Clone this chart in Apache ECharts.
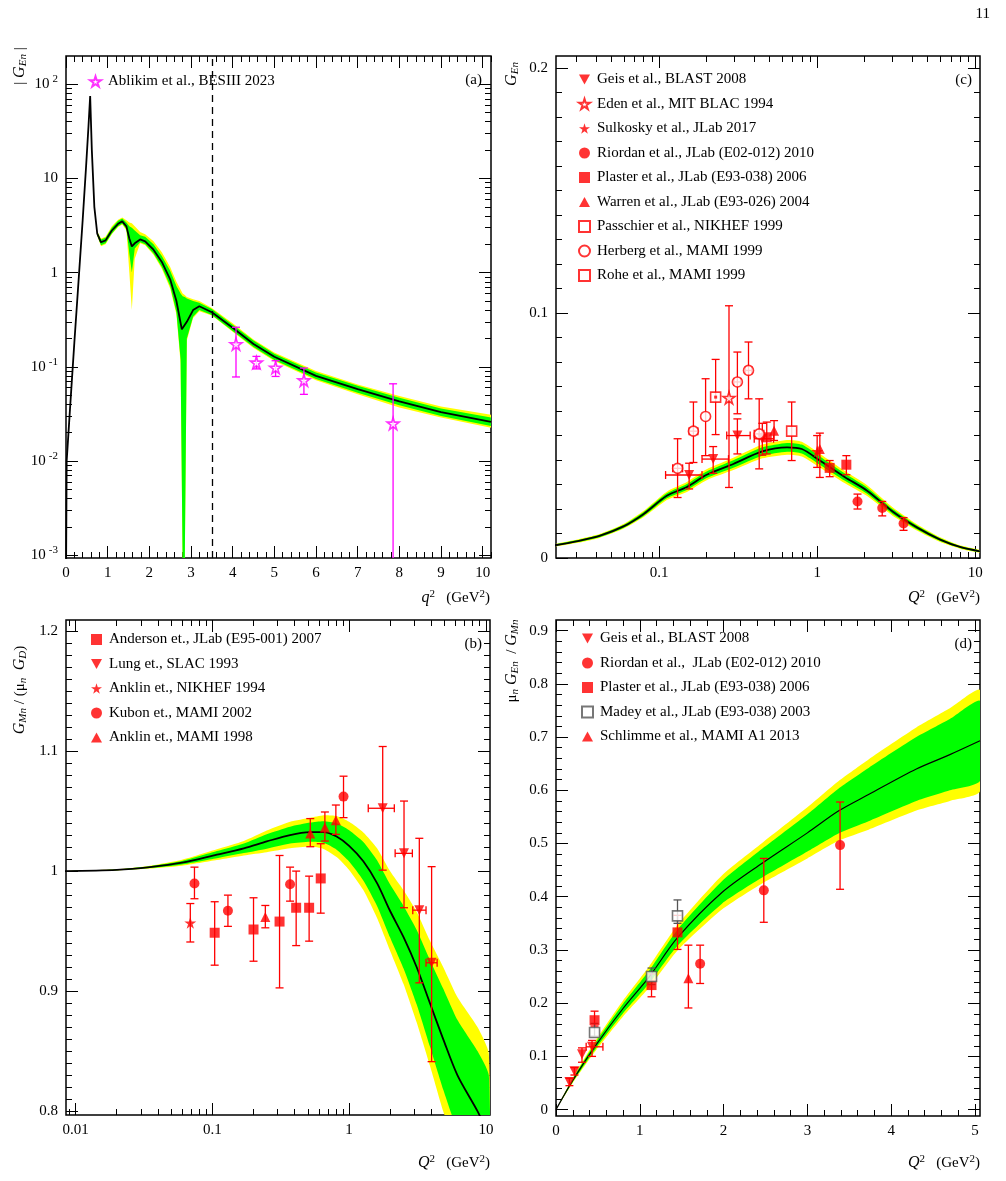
<!DOCTYPE html>
<html>
<head>
<meta charset="utf-8">
<title>Neutron form factors</title>
<script src="https://cdn.jsdelivr.net/npm/echarts@6/dist/echarts.min.js"></script>
<style>body{margin:0;background:#fff}#main{width:1006px;height:1181px}</style>
</head>
<body>
<div id="main"></div>
<script>
// ---- panel (a): |G_En| timelike, q^2 ----
var A_Q = [0.003,0.016,0.1,0.2,0.3,0.4,0.48,0.54,0.58,0.62,0.68,0.75,0.84,0.95,1.1,1.25,1.35,1.45,1.52,1.58,1.65,1.78,1.9,2.1,2.3,2.5,2.65,2.78,2.9,3.05,3.2,3.5,4,4.5,5,6,7,8,9,10.2];
var A_G = [0.0009,0.01,0.038,0.18,0.8,3.6,13,36,75,20,5,2.6,2.1,2.2,2.8,3.3,3.5,3.1,2.3,1.9,2.05,2.25,2.15,1.75,1.3,0.85,0.5,0.25,0.3,0.4,0.44,0.38,0.26,0.175,0.128,0.08,0.058,0.043,0.033,0.026];
var AB_Q = [0.75,0.84,0.95,1.1,1.25,1.35,1.45,1.52,1.58,1.65,1.78,1.9,2.1,2.3,2.5,2.65,2.75,2.8,2.85,2.9,3.05,3.2,3.5,4,4.5,5,6,7,8,9,10.2];
var AB_GLO = [2.5,1.95,2.05,2.6,3.1,3.3,2.9,1.6,1.0,1.8,2.1,2.0,1.6,1.15,0.72,0.38,0.12,0.0008,0.0008,0.2,0.34,0.4,0.355,0.24,0.162,0.118,0.074,0.053,0.039,0.03,0.0235];
var AB_GHI = [2.7,2.25,2.35,3.0,3.55,3.75,3.4,3.1,3.0,2.8,2.5,2.4,2.0,1.5,1.05,0.72,0.6,0.56,0.55,0.53,0.5,0.48,0.41,0.28,0.19,0.138,0.087,0.063,0.047,0.036,0.029];
var AB_YLO = [2.45,1.9,2.0,2.55,3.05,3.25,2.8,1.0,0.4,1.4,2.05,1.95,1.55,1.1,0.68,0.36,0.11,0.0008,0.0008,0.19,0.33,0.39,0.35,0.235,0.158,0.115,0.072,0.051,0.037,0.029,0.0225];
var AB_YHI = [2.75,2.3,2.4,3.1,3.65,3.85,3.6,3.4,3.35,3.1,2.7,2.55,2.15,1.65,1.15,0.8,0.66,0.6,0.58,0.55,0.52,0.5,0.42,0.29,0.195,0.142,0.09,0.065,0.049,0.038,0.031];
var BESIII = [[4.08,0.174,0.078,0.263],[4.57,0.111,0.095,0.129],[5.03,0.098,0.079,0.116],[5.71,0.072,0.051,0.097],[7.85,0.025,0.0008,0.066]];

// ---- panel (c): G_En spacelike ----
var C_Q = [0.022,0.03,0.042,0.06,0.08,0.112,0.15,0.2,0.295,0.45,0.645,0.8,1.04,1.5,2.07,3,4.3,6,8,10.7];
var C_G = [0.0052,0.0068,0.009,0.013,0.018,0.0254,0.029,0.034,0.0384,0.0435,0.0452,0.0445,0.0398,0.033,0.0275,0.019,0.0124,0.0075,0.0045,0.0027];
var C_GW = [0.0003,0.0004,0.0005,0.0006,0.0008,0.001,0.0012,0.0013,0.0015,0.0017,0.0018,0.0018,0.0017,0.0015,0.0013,0.001,0.0008,0.0006,0.0004,0.0003];
var C_YW = [0.0005,0.0007,0.0008,0.001,0.0013,0.0017,0.002,0.0022,0.0025,0.0028,0.003,0.003,0.0028,0.0025,0.0022,0.0017,0.0013,0.001,0.0007,0.0005];
var GEIS_C = [[0.155,0.0339,0.0282,0.0387,0.11,0.187],[0.22,0.0404,0.0346,0.0455,0.187,0.275],[0.313,0.05,0.0425,0.0568,0.268,0.377],[0.45,0.0487,0.042,0.055,0.4,0.53]];
var EDEN = [[0.277,0.0654,0.0288,0.103]];
var SULKOSKY = [[1.0,0.0435,0.037,0.05]];
var RIORDAN_C = [[1.8,0.0231,0.02,0.0261],[2.58,0.0204,0.0172,0.0231],[3.52,0.0141,0.0113,0.0165]];
var PLASTER_C = [[0.48,0.0493,0.0425,0.0555],[1.2,0.0368,0.0332,0.0398],[1.53,0.0381,0.034,0.0418]];
var WARREN = [[0.534,0.052,0.048,0.0561],[1.04,0.0445,0.0329,0.051]];
var PASSCHIER = [[0.228,0.0657,0.0504,0.0811]];
var HERBERG = [[0.131,0.0366,0.0247,0.0487,0.122,0.141],[0.165,0.0518,0.039,0.0637,0.155,0.176],[0.197,0.0578,0.0418,0.0732],[0.313,0.0719,0.0589,0.0841,0.298,0.328],[0.368,0.0766,0.065,0.0882,0.352,0.386],[0.43,0.0507,0.0364,0.065,0.40,0.46]];
var ROHE = [[0.69,0.0518,0.0398,0.0637]];

// ---- panel (b): G_Mn/(mu_n G_D) ----
var B_Q = [0.0083,0.02,0.035,0.06,0.108,0.17,0.25,0.37,0.52,0.65,0.81,1.0,1.27,1.6,1.99,2.5,3.12,3.9,4.88,6.2,8.7,10.5];
var B_G = [1.0,1.001,1.0033,1.007,1.0137,1.019,1.0247,1.030,1.0324,1.0325,1.0288,1.021,1.0082,0.99,0.967,0.945,0.92,0.89,0.86,0.83,0.80,0.78];
var B_GW = [0,0.0003,0.0008,0.0015,0.003,0.004,0.006,0.007,0.008,0.009,0.011,0.013,0.016,0.019,0.022,0.026,0.031,0.036,0.042,0.046,0.05,0.05];
var B_YW = [0,0.0005,0.0012,0.0025,0.0045,0.006,0.009,0.011,0.012,0.014,0.017,0.02,0.024,0.029,0.033,0.039,0.046,0.052,0.06,0.065,0.07,0.068];
var ANDERSON = [[0.104,0.9487,0.9217,0.9745],[0.2,0.9514,0.925,0.9778],[0.31,0.958,0.9028,1.013],[0.41,0.9695,0.938,1.0],[0.51,0.9695,0.9417,0.9958],[0.62,0.9939,0.965,1.0228]];
var LUNG = [[1.76,1.0523,1.0008,1.1037,1.38,2.14],[2.52,1.0148,0.9695,1.0583,2.17,2.9],[3.26,0.9675,0.907,1.0273,2.92,3.65],[4.01,0.9237,0.8414,1.0037,3.65,4.4]];
var ANKLIN_N = [[0.069,0.957,0.941,0.973]];
var KUBON = [[0.074,0.9897,0.977,1.0033],[0.13,0.967,0.954,0.98],[0.37,0.989,0.975,1.0033],[0.91,1.062,1.0445,1.079]];
var ANKLIN_M = [[0.244,0.9617,0.9528,0.9714],[0.52,1.0314,1.0203,1.0437],[0.665,1.0362,1.025,1.0492],[0.8,1.0423,1.0306,1.055]];

// ---- panel (d): mu_n G_En / G_Mn ----
var D_Q = [0,0.2,0.476,0.8,1.11,1.45,1.98,2.46,3.0,3.37,3.73,4.3,4.7,5.06];
var D_G = [0,0.055,0.121,0.19,0.249,0.323,0.408,0.463,0.52,0.561,0.592,0.64,0.667,0.693];
var D_GW = [0,0.003,0.006,0.009,0.012,0.015,0.021,0.027,0.035,0.042,0.05,0.06,0.067,0.075];
var D_YW = [0,0.005,0.01,0.015,0.02,0.024,0.032,0.038,0.048,0.056,0.066,0.078,0.087,0.095];
var GEIS_D = [[0.16,0.052,0.045,0.059],[0.22,0.072,0.065,0.079],[0.31,0.104,0.089,0.116],[0.43,0.118,0.10,0.13,0.36,0.56]];
var RIORDAN_D = [[1.72,0.274,0.237,0.309],[2.48,0.412,0.352,0.472],[3.39,0.497,0.414,0.578]];
var PLASTER_D = [[0.46,0.168,0.157,0.185],[1.14,0.234,0.212,0.255],[1.45,0.333,0.301,0.365]];
var MADEY = [[0.46,0.145,0.138,0.162],[1.14,0.25,0.235,0.266],[1.45,0.364,0.35,0.394]];
var SCHLIMME = [[1.58,0.247,0.191,0.309]];

var SERIF = '"Liberation Serif","DejaVu Serif",serif';
var RED = '#ff0000', MAG = '#ff00ff';
var STAR = 'path://M50,0 L61,35 L98,35 L68,57 L79,91 L50,70 L21,91 L32,57 L2,35 L39,35 Z';
var DOWN = 'path://M0,0 L10,0 L5,9 Z';
var UP = 'path://M5,0 L10,9 L0,9 Z';
var lg = Math.log10;
var id = function (v) { return v; };
var lgA = function (v) { return Math.log10(Math.max(v, 0.0008)); };

function range(a, b, s) { var r = []; for (var v = a; v <= b + 1e-9; v += s) r.push(+v.toFixed(6)); return r; }
function logMinor(n0, n1, lo, hi) {
  var r = [];
  for (var n = n0; n <= n1; n++) for (var k = 2; k <= 9; k++) { var v = n + Math.log10(k); if (v >= lo && v <= hi) r.push(v); }
  return r;
}
var labelRich = { b: { fontFamily: SERIF, fontSize: 15, color: '#000' }, s: { fontFamily: SERIF, fontSize: 11, color: '#000', verticalAlign: 'top', padding: [0, 0, 10, 3] } };

function mkAxes(g, isX, min, max, majors, minors, fmt) {
  var pos = isX ? ['bottom', 'bottom', 'top', 'top'] : ['left', 'left', 'right', 'right'];
  return pos.map(function (p, i) {
    var major = (i % 2 === 0);
    return {
      type: 'value', gridIndex: g, min: min, max: max, position: p,
      axisLine: { show: false, onZero: false }, splitLine: { show: false },
      axisTick: { show: true, inside: true, length: major ? 12 : 6, customValues: major ? majors : minors, lineStyle: { color: '#000', width: 1 } },
      axisLabel: { show: i === 0, customValues: majors, formatter: fmt, fontFamily: SERIF, fontSize: 15, color: '#000', margin: 8, rich: labelRich }
    };
  });
}

function curve(g, xs, ys, fx, fy, extra) {
  var s = { type: 'line', xAxisIndex: 4 * g, yAxisIndex: 4 * g, showSymbol: false, silent: true, z: 5,
    lineStyle: { color: '#000', width: 1.8 }, data: xs.map(function (x, i) { return [fx(x), fy(ys[i])]; }) };
  if (extra) for (var k in extra) s[k] = extra[k];
  return s;
}
function band(g, xs, lo, hi, color, fx, fy, smooth) {
  var pts = xs.map(function (x, i) { return [fx(x), fy(lo[i]), fy(hi[i])]; });
  return { type: 'custom', xAxisIndex: 4 * g, yAxisIndex: 4 * g, data: [[pts[0][0], pts[0][1]]], silent: true, z: 2,
    renderItem: function (p, api) {
      var up = pts.map(function (q) { return api.coord([q[0], q[2]]); });
      var dn = pts.map(function (q) { return api.coord([q[0], q[1]]); }).reverse();
      var c = p.coordSys;
      return { type: 'polygon', shape: { points: up.concat(dn), smooth: smooth || 0 }, style: { fill: color },
        clipPath: { type: 'rect', shape: { x: c.x, y: c.y, width: c.width, height: c.height } } };
    } };
}
function bandW(g, xs, ys, w, color, fx, fy) {
  return band(g, xs, ys.map(function (v, i) { return v - w[i]; }), ys.map(function (v, i) { return v + w[i]; }), color, fx, fy, 0.2);
}
function errs(g, pts, color, fx, fy) {
  return { type: 'custom', xAxisIndex: 4 * g, yAxisIndex: 4 * g, silent: true, z: 6,
    data: pts.map(function (p) { return [fx(p[0]), fy(p[1]), fy(p[2]), fy(p[3]), p[4] ? fx(p[4]) : fx(p[0]), p[5] ? fx(p[5]) : fx(p[0])]; }),
    renderItem: function (p, api) {
      var x = api.value(0), y = api.value(1);
      var a = api.coord([x, api.value(2)]), b = api.coord([x, api.value(3)]);
      var l = api.coord([api.value(4), y]), r = api.coord([api.value(5), y]);
      var st = { stroke: color, lineWidth: 1.3 };
      var ch = [
        { type: 'line', shape: { x1: a[0], y1: a[1], x2: b[0], y2: b[1] }, style: st },
        { type: 'line', shape: { x1: a[0] - 4, y1: a[1], x2: a[0] + 4, y2: a[1] }, style: st },
        { type: 'line', shape: { x1: b[0] - 4, y1: b[1], x2: b[0] + 4, y2: b[1] }, style: st }
      ];
      if (r[0] - l[0] > 2) {
        ch.push({ type: 'line', shape: { x1: l[0], y1: l[1], x2: r[0], y2: r[1] }, style: st });
        ch.push({ type: 'line', shape: { x1: l[0], y1: l[1] - 4, x2: l[0], y2: l[1] + 4 }, style: st });
        ch.push({ type: 'line', shape: { x1: r[0], y1: r[1] - 4, x2: r[0], y2: r[1] + 4 }, style: st });
      }
      var c = p.coordSys;
      return { type: 'group', children: ch, clipPath: { type: 'rect', shape: { x: c.x, y: c.y, width: c.width, height: c.height } } };
    } };
}
function marks(g, name, pts, symbol, size, color, open, fx, fy) {
  return { type: 'scatter', name: name, xAxisIndex: 4 * g, yAxisIndex: 4 * g, symbol: symbol, symbolSize: size, z: 8, silent: true,
    itemStyle: open ? { color: '#fff', borderColor: color, borderWidth: 1.6 } : { color: color },
    data: pts.map(function (p) { return [fx(p[0]), fy(p[1])]; }) };
}
function group(g, name, pts, symbol, size, color, open, fx, fy) {
  return [errs(g, pts, color, fx, fy), marks(g, name, pts, symbol, size, color, open, fx, fy)];
}

// axes
var fmtA = function (v) { if (v === 0) return '{b|1}'; if (v === 1) return '{b|10}'; return '{b|10}{s|' + v + '}'; };
var fmtLog = function (v) { return String(+Math.pow(10, v).toPrecision(2)); };
var fmtLin = function (v) { return String(+v.toFixed(2)); };
var xA = mkAxes(0, true, 0, 10.2, range(0, 10, 1), range(0, 10.2, 0.2), fmtLin);
var yA = mkAxes(0, false, -3.03, 2.3, [-3, -2, -1, 0, 1, 2], logMinor(-3, 2, -3.03, 2.3), fmtA);
var xC = mkAxes(1, true, lg(0.0223), 1.03, [-1, 0, 1], logMinor(-2, 1, lg(0.0223), 1.03), fmtLog);
var yC = mkAxes(1, false, 0, 0.205, [0, 0.1, 0.2], range(0, 0.2, 0.01), fmtLin);
var xB = mkAxes(2, true, -2.07, 1.03, [-2, -1, 0, 1], logMinor(-3, 1, -2.07, 1.03), fmtLog);
var yB = mkAxes(2, false, 0.797, 1.209, [0.8, 0.9, 1, 1.1, 1.2], range(0.8, 1.2, 0.01), fmtLin);
var xD = mkAxes(3, true, 0, 5.06, range(0, 5, 1), range(0, 5, 0.2), fmtLin);
var yD = mkAxes(3, false, -0.012, 0.92, range(0, 0.9, 0.1), range(0, 0.9, 0.02), fmtLin);

var series = [].concat(
  band(0, AB_Q, AB_YLO, AB_YHI, '#ffff00', id, lgA),
  band(0, AB_Q, AB_GLO, AB_GHI, '#00ff00', id, lgA),
  curve(0, A_Q, A_G, id, lgA, { markLine: { silent: true, symbol: 'none', label: { show: false },
    lineStyle: { color: '#000', type: [7, 5], width: 1.3 }, data: [{ xAxis: 3.52 }] } }),
  group(0, 'Ablikim et al., BESIII 2023', BESIII, STAR, 12, MAG, true, id, lgA),

  bandW(1, C_Q, C_G, C_YW, '#ffff00', lg, id),
  bandW(1, C_Q, C_G, C_GW, '#00ff00', lg, id),
  curve(1, C_Q, C_G, lg, id, { smooth: 0.3 }),
  group(1, 'Geis et al., BLAST 2008', GEIS_C, DOWN, 10, RED, false, lg, id),
  group(1, 'Eden et al., MIT BLAC 1994', EDEN, STAR, 12, RED, true, lg, id),
  group(1, 'Sulkosky et al., JLab 2017', SULKOSKY, STAR, 12, RED, false, lg, id),
  group(1, 'Riordan et al., JLab (E02-012) 2010', RIORDAN_C, 'circle', 10, RED, false, lg, id),
  group(1, 'Plaster et al., JLab (E93-038) 2006', PLASTER_C, 'rect', 10, RED, false, lg, id),
  group(1, 'Warren et al., JLab (E93-026) 2004', WARREN, UP, 10, RED, false, lg, id),
  group(1, 'Passchier et al., NIKHEF 1999', PASSCHIER, 'rect', 10, RED, true, lg, id),
  marks(1, '', PASSCHIER, 'rect', 3, RED, false, lg, id),
  group(1, 'Herberg et al., MAMI 1999', HERBERG, 'circle', 10, RED, true, lg, id),
  group(1, 'Rohe et al., MAMI 1999', ROHE, 'rect', 10, RED, true, lg, id),

  bandW(2, B_Q, B_G, B_YW, '#ffff00', lg, id),
  bandW(2, B_Q, B_G, B_GW, '#00ff00', lg, id),
  curve(2, B_Q, B_G, lg, id, { smooth: 0.3 }),
  group(2, 'Anderson et., JLab (E95-001) 2007', ANDERSON, 'rect', 10, RED, false, lg, id),
  group(2, 'Lung et., SLAC 1993', LUNG, DOWN, 10, RED, false, lg, id),
  group(2, 'Anklin et., NIKHEF 1994', ANKLIN_N, STAR, 12, RED, false, lg, id),
  group(2, 'Kubon et., MAMI 2002', KUBON, 'circle', 10, RED, false, lg, id),
  group(2, 'Anklin et., MAMI 1998', ANKLIN_M, UP, 10, RED, false, lg, id),

  bandW(3, D_Q, D_G, D_YW, '#ffff00', id, id),
  bandW(3, D_Q, D_G, D_GW, '#00ff00', id, id),
  curve(3, D_Q, D_G, id, id, { smooth: 0.3, lineStyle: { color: '#000', width: 1.2 } }),
  group(3, 'Geis et al., BLAST 2008', GEIS_D, DOWN, 10, RED, false, id, id),
  group(3, 'Riordan et al.,  JLab (E02-012) 2010', RIORDAN_D, 'circle', 10, RED, false, id, id),
  group(3, 'Plaster et al., JLab (E93-038) 2006', PLASTER_D, 'rect', 10, RED, false, id, id),
  group(3, 'Madey et al., JLab (E93-038) 2003', MADEY, 'rect', 10, '#555555', true, id, id),
  group(3, 'Schlimme et al., MAMI A1 2013', SCHLIMME, UP, 10, RED, false, id, id)
);

function legend(left, top, names) {
  return { data: names, left: left, top: top, orient: 'vertical', padding: 0, itemGap: 9.5, itemWidth: 11, itemHeight: 11,
    selectedMode: false, textStyle: { fontFamily: SERIF, fontSize: 15, color: '#000', lineHeight: 12, padding: [0, 0, 0, 2] } };
}
var rich = {
  i: { fontFamily: SERIF, fontSize: 16, fontStyle: 'italic', color: '#000' },
  r: { fontFamily: SERIF, fontSize: 15, color: '#000' },
  sub: { fontFamily: SERIF, fontSize: 11, fontStyle: 'italic', color: '#000', verticalAlign: 'bottom', padding: [6, 0, 0, 0] },
  sup: { fontFamily: SERIF, fontSize: 11, color: '#000', verticalAlign: 'top', padding: [0, 0, 8, 0] }
};
function txt(x, y, text, rot, align) {
  return { type: 'text', x: x, y: y, rotation: rot || 0, style: { text: text, rich: rich, fontFamily: SERIF, fontSize: 15, fill: '#000', align: align || 'left', verticalAlign: 'middle' } };
}

var chart = echarts.init(document.getElementById('main'), null, { renderer: 'canvas' });
chart.setOption({
  backgroundColor: '#fff',
  animation: false,
  grid: [
    { left: 66, top: 56, width: 425, height: 502, show: true, borderColor: '#000', borderWidth: 1.5, backgroundColor: 'transparent' },
    { left: 556, top: 56, width: 424, height: 502, show: true, borderColor: '#000', borderWidth: 1.5, backgroundColor: 'transparent' },
    { left: 66, top: 620, width: 424, height: 495, show: true, borderColor: '#000', borderWidth: 1.5, backgroundColor: 'transparent' },
    { left: 556, top: 620, width: 424, height: 496, show: true, borderColor: '#000', borderWidth: 1.5, backgroundColor: 'transparent' }
  ],
  xAxis: [].concat(xA, xC, xB, xD),
  yAxis: [].concat(yA, yC, yB, yD),
  legend: [
    legend(89, 74, ['Ablikim et al., BESIII 2023']),
    legend(578, 72, ['Geis et al., BLAST 2008', 'Eden et al., MIT BLAC 1994', 'Sulkosky et al., JLab 2017', 'Riordan et al., JLab (E02-012) 2010',
      'Plaster et al., JLab (E93-038) 2006', 'Warren et al., JLab (E93-026) 2004', 'Passchier et al., NIKHEF 1999', 'Herberg et al., MAMI 1999', 'Rohe et al., MAMI 1999']),
    legend(91, 632, ['Anderson et., JLab (E95-001) 2007', 'Lung et., SLAC 1993', 'Anklin et., NIKHEF 1994', 'Kubon et., MAMI 2002', 'Anklin et., MAMI 1998']),
    legend(581, 631, ['Geis et al., BLAST 2008', 'Riordan et al.,  JLab (E02-012) 2010', 'Plaster et al., JLab (E93-038) 2006', 'Madey et al., JLab (E93-038) 2003', 'Schlimme et al., MAMI A1 2013'])
  ],
  graphic: [
    txt(990, 14, '{r|11}', 0, 'right'),
    txt(482, 80, '{r|(a)}', 0, 'right'),
    txt(972, 80, '{r|(c)}', 0, 'right'),
    txt(482, 644, '{r|(b)}', 0, 'right'),
    txt(972, 644, '{r|(d)}', 0, 'right'),
    txt(20, 66, '{r||} {i|G}{sub|En} {r||}', Math.PI / 2, 'center'),
    txt(512, 74, '{i|G}{sub|En}', Math.PI / 2, 'center'),
    txt(20, 690, '{i|G}{sub|Mn}{r| / (μ}{sub|n}{r|  }{i|G}{sub|D}{r|)}', Math.PI / 2, 'center'),
    txt(512, 661, '{r|μ}{sub|n}{i| G}{sub|En}{r|  / }{i|G}{sub|Mn}', Math.PI / 2, 'center'),
    txt(490, 598, '{i|q}{sup|2}{r|   (GeV}{sup|2}{r|)}', 0, 'right'),
    txt(980, 598, '{i|Q}{sup|2}{r|   (GeV}{sup|2}{r|)}', 0, 'right'),
    txt(490, 1163, '{i|Q}{sup|2}{r|   (GeV}{sup|2}{r|)}', 0, 'right'),
    txt(980, 1163, '{i|Q}{sup|2}{r|   (GeV}{sup|2}{r|)}', 0, 'right')
  ],
  series: series
});
</script>
</body>
</html>
